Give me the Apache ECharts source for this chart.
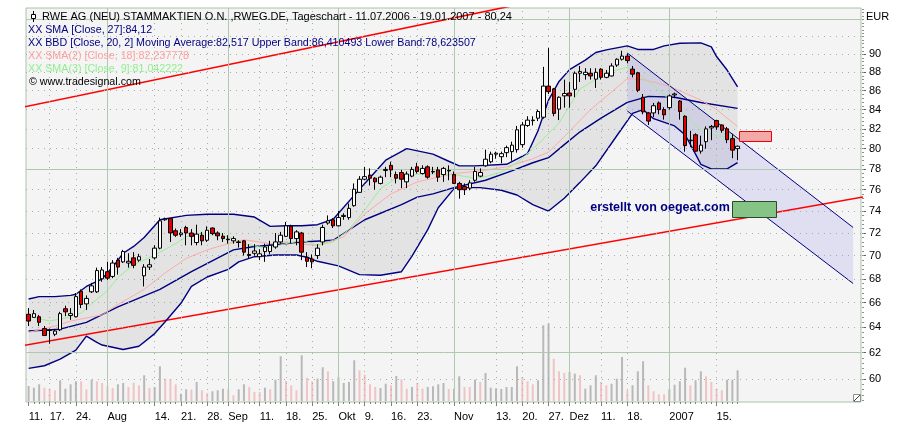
<!DOCTYPE html>
<html><head><meta charset="utf-8">
<script src="https://cdn.jsdelivr.net/npm/echarts@6/dist/echarts.min.js"></script>
<style>html,body{margin:0;padding:0;background:#fff}#c{width:919px;height:434px}</style>
</head><body><div id="c"></div>
<script>
// ---------- DATA ----------
const categories = ['11.07.06','12.07.06','13.07.06','14.07.06','17.07.06','18.07.06','19.07.06','20.07.06','21.07.06','24.07.06','25.07.06','26.07.06','27.07.06','28.07.06','31.07.06',
'01.08.06','02.08.06','03.08.06','04.08.06','07.08.06','08.08.06','09.08.06','10.08.06','11.08.06','14.08.06','15.08.06','16.08.06','17.08.06','18.08.06','21.08.06','22.08.06','23.08.06','24.08.06','25.08.06','28.08.06','29.08.06','30.08.06','31.08.06',
'01.09.06','04.09.06','05.09.06','06.09.06','07.09.06','08.09.06','11.09.06','12.09.06','13.09.06','14.09.06','15.09.06','18.09.06','19.09.06','20.09.06','21.09.06','22.09.06','25.09.06','26.09.06','27.09.06','28.09.06','29.09.06',
'02.10.06','03.10.06','04.10.06','05.10.06','06.10.06','09.10.06','10.10.06','11.10.06','12.10.06','13.10.06','16.10.06','17.10.06','18.10.06','19.10.06','20.10.06','23.10.06','24.10.06','25.10.06','26.10.06','27.10.06','30.10.06','31.10.06',
'01.11.06','02.11.06','03.11.06','06.11.06','07.11.06','08.11.06','09.11.06','10.11.06','13.11.06','14.11.06','15.11.06','16.11.06','17.11.06','20.11.06','21.11.06','22.11.06','23.11.06','24.11.06','27.11.06','28.11.06','29.11.06','30.11.06',
'01.12.06','04.12.06','05.12.06','06.12.06','07.12.06','08.12.06','11.12.06','12.12.06','13.12.06','14.12.06','15.12.06','18.12.06','19.12.06','20.12.06','21.12.06','22.12.06','27.12.06','28.12.06','29.12.06',
'02.01.07','03.01.07','04.01.07','05.01.07','08.01.07','09.01.07','10.01.07','11.01.07','12.01.07','15.01.07','16.01.07','17.01.07','18.01.07','19.01.07',
'22.01.07','23.01.07','24.01.07','25.01.07','26.01.07','29.01.07','30.01.07','31.01.07','01.02.07','02.02.07','05.02.07','06.02.07','07.02.07','08.02.07','09.02.07','12.02.07','13.02.07','14.02.07','15.02.07','16.02.07','19.02.07','20.02.07','21.02.07'];

const tickDates = ['11.07.06','17.07.06','24.07.06','01.08.06','14.08.06','21.08.06','28.08.06','01.09.06','11.09.06','18.09.06','25.09.06','02.10.06','09.10.06','16.10.06','23.10.06','01.11.06','13.11.06','20.11.06','27.11.06','01.12.06','11.12.06','18.12.06','02.01.07','15.01.07'];
const tickText  = ['11.','17.','24.','Aug','14.','21.','28.','Sep','11.','18.','25.','Okt','9.','16.','23.','Nov','13.','20.','27.','Dez','11.','18.','2007','15.'];
const monthDates = ['01.08.06','01.09.06','02.10.06','01.11.06','01.12.06','02.01.07'];
const weekDates = ['17.07.06','24.07.06','14.08.06','21.08.06','28.08.06','11.09.06','18.09.06','25.09.06','09.10.06','16.10.06','23.10.06','13.11.06','20.11.06','27.11.06','11.12.06','18.12.06','15.01.07'];

const priceTicks = [60,62,64,66,68,70,72,74,76,78,80,82,84,86,88,90];
const gridValues = [58,60,62,64,66,68,70,72,74,76,78,80,82,84,86,88,90,92,94];
const solidGridValues = [62,78,94];

const open = [65.05,64.8,64.85,63.9,63.75,63.45,63.8,65.5,64.95,64.85, 66.95,65.9,66.9,66.9,68.0,68.6,68.2,69.6,69.45,69.35, 69.8,69.6,68.25,69.0,69.8,70.65,73.2,73.3,72.2,71.85, 72.5,72.0,71.15,71.8,71.35,72.45,72.0,71.7,71.45,71.3, 71.2,71.3,70.1,70.2,69.9,70.35,70.35,70.75,71.2,71.7, 72.6,71.5,72.0,69.85,69.7,70.0,71.2,72.9,73.2,72.65, 73.5,73.4,74.5,75.75,77.0,77.4,77.1,76.6,77.85,78.35, 77.45,77.65,76.75,77.3,78.2,77.55,78.2,77.75,77.9,77.45, 77.85,77.45,76.6,76.3,76.15,76.9,77.3,78.3,78.7,79.45, 79.2,79.6,79.7,79.9,80.4,82.35,82.85,83.1,83.2,86.5, 86.2,84.05,85.45,85.75,86.15,87.9,87.75,87.9,87.25,88.35, 87.45,87.6,88.8,89.45,89.8,88.35,87.95,85.3,83.65,83.65, 84.7,84.0,84.2,85.55,84.9,83.3,80.8,81.4,79.75,80.7, 82.1,82.85,82.4,82.0,81.0,80.0];
const close = [64.5,65.1,64.4,63.35,63.8,63.7,65.1,65.25,65.1,66.5, 65.85,66.35,67.4,68.7,68.75,68.05,69.35,69.0,70.35,69.5, 69.15,69.9,69.0,69.2,70.65,73.1,73.3,72.0,71.8,72.0, 72.0,71.7,71.9,71.3,72.25,71.95,71.75,71.5,71.4,71.5, 71.15,70.3,70.0,70.4,70.15,70.75,70.9,71.2,71.8,72.65, 71.5,72.1,70.3,69.5,69.45,70.65,72.5,73.1,72.65,73.4, 73.6,74.25,76.05,77.0,77.25,77.1,76.75,77.2,77.95,77.9, 77.1,77.0,77.5,77.95,77.75,78.05,77.2,77.7,77.2,78.05, 77.8,76.6,76.0,76.0,76.65,77.75,77.65,78.95,79.45,79.55, 79.5,80.1,80.35,81.9,82.4,82.9,82.9,83.8,86.5,85.9, 83.6,85.3,85.7,85.45,87.9,88.1,88.0,87.6,88.0,87.45, 87.9,88.7,89.45,89.8,89.3,87.8,86.05,83.75,82.8,84.4, 84.0,83.45,85.45,85.65,83.8,80.3,80.85,79.75,80.35,82.0, 82.25,82.2,81.85,80.9,79.85,80.24];
const low = [64.1,64.75,64.1,63.3,62.7,63.3,63.7,64.9,64.6,64.8, 65.55,65.4,66.8,66.8,67.75,67.9,68.05,68.35,69.35,68.95, 68.9,69.45,67.35,68.75,69.65,70.55,73.1,71.2,71.65,71.65, 70.9,70.9,70.9,70.9,71.2,71.8,71.35,71.2,71.05,71.05, 70.7,70.0,69.75,70.0,69.6,69.45,70.1,70.6,71.05,71.65, 71.1,70.9,69.6,69.0,68.9,69.7,70.9,72.75,72.45,72.6, 73.2,73.2,74.4,75.7,76.9,76.4,76.0,76.5,77.2,77.2, 76.6,76.15,76.15,77.2,77.55,77.45,77.05,77.5,76.75,76.75, 76.9,76.55,75.15,75.5,75.95,76.75,77.2,78.2,78.55,79.0, 78.55,79.15,78.8,79.6,80.1,82.2,82.35,82.8,83.05,85.65, 83.3,82.9,84.2,84.2,85.3,86.95,87.2,87.2,86.3,87.2, 87.35,87.55,88.6,89.3,89.0,87.45,85.85,83.5,82.4,83.2, 83.5,82.95,84.0,85.2,82.95,79.7,80.15,79.7,79.5,80.0, 80.85,81.9,81.6,80.55,79.05,78.85];
const high = [65.55,65.4,65.0,64.1,63.9,63.85,65.25,65.75,65.55,66.8, 67.1,66.6,67.65,68.95,69.0,69.45,69.6,69.8,70.5,70.2, 70.3,70.15,69.25,69.7,70.9,73.4,73.4,73.35,72.4,72.35, 72.65,72.35,72.75,72.1,72.6,72.5,72.15,72.0,71.8,71.7, 71.35,71.35,71.0,71.0,70.55,71.05,71.3,72.0,72.1,73.0, 72.75,72.25,72.1,70.3,70.1,71.0,72.75,73.6,73.35,74.0, 73.8,74.7,76.6,77.3,78.2,78.05,77.2,77.35,78.2,78.7, 77.75,77.9,77.75,78.2,78.6,78.35,78.35,78.2,78.2,78.2, 78.35,77.75,76.75,76.6,76.9,78.2,78.05,79.9,79.7,79.7, 79.7,80.3,80.7,82.3,82.7,83.3,83.3,84.0,88.6,90.7, 86.3,85.4,87.2,86.95,88.1,88.7,88.45,88.45,88.45,88.45, 88.25,89.0,89.55,90.4,90.1,88.7,88.05,85.65,83.75,84.7, 84.85,84.25,85.6,85.8,85.0,83.4,81.8,81.55,81.3,82.25, 82.4,82.9,82.45,82.2,81.5,80.3];

const volume = [15,13.3,16.7,13.3,12.3,10.7,20.7,12.3,16.7,19.7, 19.7,11.7,21.3,19.7,18.0,14.7,13.0,16.7,18.0,14.0, 18.3,15.7,25.7,13.0,14.0,34.7,22.3,21.7,16.7,7.3, 11.7,11.3,19.0,10.7,8.0,9.7,10.7,12.3,11.7,5.7, 11.7,16.7,14.0,9.0,9.0,13.3,11.7,21.3,44.7,20.0, 15.7,10.7,45.7,23.3,19.7,22.3,33.7,29.7,19.7,23.7, 18.0,19.0,40.7,30.7,26.3,16.7,14.0,13.0,17.3,15.7, 25.0,21.7,12.3,14.0,18.0,12.3,14.0,14.7,16.7,18.0, 12.0,12.3,24.7,14.0,14.0,21.3,19.0,28.0,13.3,12.7, 12.0,14.0,14.0,34.7,24.0,19.7,16.7,20.7,75.7,77.3, 42.3,29.7,28.0,29.0,27.3,25.7,12.3,15.7,25.7,19.0, 15.7,17.3,22.3,44.0,10.7,15.7,29.7,39.7,15.7,9.7, 6.7,6.7,11.7,16.3,19.7,33.3,15.7,20.7,29.7,24.7, 19.0,12.3,10.7,21.3,21.3,30.7];
const volumeUp = [1,1,1,0,0,0,1,1,1,1, 0,0,1,0,0,0,0,1,1,0, 0,0,1,0,1,1,0,0,0,1, 1,0,1,0,0,1,1,1,0,0, 1,1,0,0,0,1,0,1,1,0, 0,0,1,0,0,1,1,0,1,1, 1,1,1,0,0,0,0,1,1,0, 1,0,0,1,0,0,1,1,1,1, 0,1,1,0,0,1,0,1,1,1, 1,1,1,1,0,0,0,1,1,1, 0,0,0,1,1,0,1,1,1,0, 0,1,1,1,0,1,1,1,0,0, 0,0,1,1,1,1,0,1,1,0, 0,0,0,1,1,1];

// indicator lines: [day index, value]
const bbUpper = [[0,66.3],[2,66.5],[5,66.5],[8,66.6],[9,66.7],[11,67.35],[14,68.0],[16,69.0],[18,70.2],[20,70.8],[22,71.6],[25,73.2],[30,73.6],[34,73.7],[39,73.7],[43,73.45],[46,72.6],[49,72.65],[52,72.65],[55,72.75],[58,73.25],[64,76.6],[68,78.85],[72,80.0],[77,79.45],[80,78.75],[82,78.3],[85,78.3],[91,78.45],[95,79.5],[97,81.8],[99,85.0],[101,87.0],[103,88.3],[106,89.35],[108,90.2],[110,90.5],[114,90.95],[116,90.55],[119,90.55],[121,90.95],[124,91.25],[128,91.3],[130,90.85],[131,89.75],[133,88.25],[135,86.41]];
const bbLower = [[0,60.8],[3,61.0],[6,61.5],[9,62.2],[11,63.3],[13,62.8],[14,62.6],[18,62.25],[21,62.5],[24,63.5],[26,64.45],[29,65.95],[31,67.35],[34,68.15],[38,68.8],[40,69.45],[43,69.9],[47,70.05],[51,70.05],[53,69.85],[55,69.5],[59,69.1],[63,68.35],[67,68.3],[71,68.6],[73,69.95],[76,72.3],[78,74.3],[81,76.1],[82,76.2],[86,76.2],[90,75.95],[93,75.5],[96,74.6],[99,74.0],[102,75.2],[105,76.7],[108,78.3],[112,81.3],[115,83.6],[117,84.0],[119,83.05],[123,82.3],[125,81.4],[127,79.45],[128,78.45],[130,78.0],[133,78.0],[135,78.62]];
const sma27 = [[0,63.7],[6,63.85],[11,64.4],[17,65.65],[25,67.1],[31,68.6],[39,70.5],[43,70.8],[47,70.95],[52,71.2],[58,71.35],[64,73.2],[71,74.6],[74,75.3],[77,75.6],[81,76.2],[87,76.9],[92,77.8],[96,78.6],[99,79.1],[102,80.4],[105,81.7],[109,83.1],[114,84.75],[118,85.4],[123,85.3],[128,84.75],[135,84.12]];
const sma18 = [[0,63.6],[5,64.1],[8,64.5],[14,65.0],[17,65.85],[22,67.1],[26,68.5],[30,69.75],[34,70.5],[38,71.05],[41,71.4],[46,71.05],[49,71.2],[52,71.0],[55,70.9],[57,71.2],[60,71.65],[64,73.75],[69,75.6],[74,76.75],[78,77.2],[81,77.55],[86,77.8],[91,78.2],[96,79.0],[99,79.65],[102,81.2],[107,84.0],[114,87.3],[117,87.2],[122,86.5],[128,85.0],[131,84.0],[135,82.24]];
const sma9 = [[0,64.9],[4,64.5],[7,64.75],[10,65.15],[12,65.9],[15,67.0],[17,68.1],[20,69.2],[22,69.6],[25,70.3],[28,71.05],[30,71.65],[33,72.0],[37,71.8],[39,71.5],[41,71.05],[44,70.75],[46,70.7],[49,71.05],[52,71.35],[55,70.9],[58,71.2],[61,72.3],[64,74.1],[67,76.1],[70,77.1],[74,77.5],[78,77.5],[81,77.45],[85,77.1],[87,77.25],[90,77.7],[93,78.6],[97,80.45],[101,82.6],[105,86.2],[109,87.55],[111,88.1],[114,88.55],[116,87.9],[120,86.1],[124,84.0],[128,81.8],[131,81.3],[135,81.04]];

// drawn trend lines / channel / boxes, in [day index, price]
const trendUpper = [[-1,84.26],[95,96.0]];
const trendLower = [[-1,62.56],[159,75.32]];
const channelTop = [[114,90.15],[157,72.5]];
const channelBottom = [[114,83.85],[157,67.6]];
const redBox = [[135.2,81.8],[141.3,80.75]];
const greenBox = [[133.9,74.9],[142.3,73.45]];

// ---------- CHART ----------
const FONT = "'Liberation Sans', Arial, sans-serif";
const yMin = 58.30, yMax = 95.36;
const nDays = close.length;
const chart = echarts.init(document.getElementById('c'), null, {renderer: 'canvas'});

function fx(api, f, v) {
  const a = Math.floor(f);
  const p0 = api.coord([a, v])[0], p1 = api.coord([a + 1, v])[0];
  return p0 + (p1 - p0) * (f - a);
}
function boxSeries(box, fill, stroke) {
  return {
    type: 'custom', xAxisIndex: 0, yAxisIndex: 0, z: 6, silent: true, data: [[0, 70]],
    renderItem: (params, api) => {
      const x0 = fx(api, box[0][0], box[0][1]), x1 = fx(api, box[1][0], box[1][1]);
      const y0 = api.coord([0, box[0][1]])[1], y1 = api.coord([0, box[1][1]])[1];
      return {type: 'rect', shape: {x: Math.round(x0) + 0.5, y: Math.round(y0) + 0.5, width: Math.round(x1 - x0), height: Math.round(y1 - y0)},
              style: {fill: fill, stroke: stroke, lineWidth: 1}};
    }
  };
}
function lineSeries(data, color, width, z) {
  return {type: 'line', xAxisIndex: 0, yAxisIndex: 0, data: data, showSymbol: false, symbol: 'none', silent: true,
          z: z || 4, lineStyle: {color: color, width: width}, clip: true};
}

const gridMarks = gridValues.map(v => solidGridValues.indexOf(v) >= 0
  ? {yAxis: v, lineStyle: {color: '#b0c8b0', width: 1, type: 'solid'}}
  : {yAxis: v, lineStyle: {color: '#a6aca6', width: 1, type: [1, 5]}});
monthDates.forEach(d => gridMarks.push({xAxis: d, lineStyle: {color: '#b0c8b0', width: 1, type: 'solid'}}));
weekDates.forEach(d => gridMarks.push({xAxis: d, lineStyle: {color: '#a6aca6', width: 1, type: [1, 5]}}));

const minorTicks = [];
for (let v = 58.4; v < 95.3; v += 0.4) minorTicks.push({yAxis: +v.toFixed(1)});

const option = {
  animation: false,
  backgroundColor: '#ffffff',
  grid: [
    {left: 26, top: 8, width: 835, height: 394, show: true, backgroundColor: '#f4f4f4', borderColor: '#a9c2a9', borderWidth: 1},
    {left: 26, top: 301, width: 835, height: 100, show: false},
    {left: 862, top: 8, width: 4, height: 394, show: false},
    {left: 862, top: 8, width: 2, height: 394, show: false}
  ],
  xAxis: [
    {gridIndex: 0, type: 'category', data: categories, boundaryGap: true, position: 'bottom',
     axisLine: {show: false},
     axisTick: {show: true, alignWithLabel: true, length: 2, interval: (i) => i < nDays, lineStyle: {color: '#808080'}},
     axisLabel: {show: true, interval: (i, v) => tickDates.indexOf(v) >= 0,
                 formatter: (v) => tickText[tickDates.indexOf(v)] || '',
                 align: 'left', margin: 9, fontSize: 11, color: '#000', fontFamily: FONT},
     splitLine: {show: false}},
    {gridIndex: 0, type: 'category', data: categories, boundaryGap: true, position: 'bottom',
     axisLine: {show: false},
     axisTick: {show: true, alignWithLabel: true, length: 4, interval: (i, v) => tickDates.indexOf(v) >= 0, lineStyle: {color: '#808080'}},
     axisLabel: {show: false}, splitLine: {show: false}},
    {gridIndex: 1, type: 'category', data: categories, boundaryGap: true, show: false},
    {gridIndex: 2, type: 'value', min: 0, max: 1, show: false},
    {gridIndex: 3, type: 'value', min: 0, max: 1, show: false}
  ],
  yAxis: [
    {gridIndex: 0, type: 'log', min: yMin, max: yMax, show: false},
    {gridIndex: 1, type: 'value', min: 0, max: 100, show: false},
    {gridIndex: 2, type: 'log', min: yMin, max: yMax, show: false},
    {gridIndex: 3, type: 'log', min: yMin, max: yMax, show: false}
  ],
  series: [
    // Bollinger band fill
    {type: 'custom', xAxisIndex: 0, yAxisIndex: 0, z: 1, silent: true, data: [[0, 70]],
     renderItem: (params, api) => {
       const pts = bbUpper.map(p => api.coord(p)).concat(bbLower.slice().reverse().map(p => api.coord(p)));
       return {type: 'polygon', shape: {points: pts}, style: {fill: '#e3e3e3'}};
     }},
    // grid lines
    {type: 'line', xAxisIndex: 0, yAxisIndex: 0, z: 2, silent: true, data: [[0, 70]], showSymbol: false, symbol: 'none',
     lineStyle: {opacity: 0},
     markLine: {silent: true, symbol: ['none', 'none'], label: {show: false}, animation: false, data: gridMarks}},
    // channel fill
    {type: 'custom', xAxisIndex: 0, yAxisIndex: 0, z: 2, silent: true, data: [[0, 70]],
     renderItem: (params, api) => {
       const pts = channelTop.map(p => api.coord(p)).concat(channelBottom.slice().reverse().map(p => api.coord(p)));
       return {type: 'polygon', shape: {points: pts}, style: {fill: 'rgba(70,70,225,0.12)'}};
     }},
    // volume
    {type: 'bar', xAxisIndex: 2, yAxisIndex: 1, z: 3, silent: true, barWidth: 2,
     data: volume.map((v, i) => ({value: v, itemStyle: {color: volumeUp[i] ? '#b8b8b8' : '#f0c4c4'}}))},
    // trend lines
    lineSeries(trendUpper, '#ff0000', 1.6, 3),
    lineSeries(trendLower, '#ff0000', 1.6, 3),
    // indicators
    lineSeries(bbUpper, '#000080', 1.4),
    lineSeries(bbLower, '#000080', 1.4),
    lineSeries(sma27, '#000080', 1.4),
    lineSeries(sma18, '#ffaaaa', 1),
    lineSeries(sma9, '#99f099', 1),
    // channel lines
    lineSeries(channelTop, '#000080', 1),
    lineSeries(channelBottom, '#000080', 1),
    // candles
    {type: 'candlestick', xAxisIndex: 0, yAxisIndex: 0, z: 5, silent: true, barWidth: 4,
     data: open.map((o, i) => [o, close[i], low[i], high[i]]),
     itemStyle: {color: '#ffffff', color0: '#e00000', borderColor: '#000000', borderColor0: '#000000', borderWidth: 1}},
    boxSeries(redBox, '#f5a8a8', '#ee0000'),
    boxSeries(greenBox, '#86c486', '#2a4a2a'),
    // right axis: major ticks + labels
    {type: 'line', xAxisIndex: 3, yAxisIndex: 2, z: 6, silent: true, data: [[0, 70]], showSymbol: false, symbol: 'none',
     lineStyle: {opacity: 0},
     markLine: {silent: true, symbol: ['none', 'none'], animation: false,
       lineStyle: {color: '#606060', width: 1, type: 'solid'},
       label: {show: true, position: 'end', distance: 3, formatter: (p) => String(p.value), color: '#000', fontSize: 11, fontFamily: FONT},
       data: priceTicks.map(v => ({yAxis: v}))}},
    // right axis: minor ticks
    {type: 'line', xAxisIndex: 4, yAxisIndex: 3, z: 6, silent: true, data: [[0, 70]], showSymbol: false, symbol: 'none',
     lineStyle: {opacity: 0},
     markLine: {silent: true, symbol: ['none', 'none'], animation: false, label: {show: false},
       lineStyle: {color: '#909090', width: 1, type: 'solid'}, data: minorTicks}}
  ],
  graphic: [
    {type: 'line', z: 10, shape: {x1: 33.5, y1: 11, x2: 33.5, y2: 22}, style: {stroke: '#000', lineWidth: 1}},
    {type: 'rect', z: 11, shape: {x: 31.5, y: 14.5, width: 4, height: 4}, style: {fill: '#fff', stroke: '#000', lineWidth: 1}},
    {type: 'text', z: 10, x: 42, y: 16.5, style: {text: 'RWE AG (NEU) STAMMAKTIEN O.N. ,RWEG.DE, Tageschart - 11.07.2006 - 19.01.2007 - 80,24', fill: '#000', font: '11px ' + FONT, verticalAlign: 'middle'}},
    {type: 'text', z: 10, x: 28, y: 30, style: {text: 'XX SMA [Close, 27]:84,12', fill: '#000080', font: '10.7px ' + FONT, verticalAlign: 'middle'}},
    {type: 'text', z: 10, x: 28, y: 43, style: {text: 'XX BBD [Close, 20, 2] Moving Average:82,517 Upper Band:86,410493 Lower Band:78,623507', fill: '#000080', font: '10.7px ' + FONT, verticalAlign: 'middle'}},
    {type: 'text', z: 10, x: 28, y: 56, style: {text: 'XX SMA(2) [Close, 18]:82,237778', fill: '#ffa0a0', font: '10.7px ' + FONT, verticalAlign: 'middle'}},
    {type: 'text', z: 10, x: 28, y: 69, style: {text: 'XX SMA(3) [Close, 9]:81,042222', fill: '#90ee90', font: '10.7px ' + FONT, verticalAlign: 'middle'}},
    {type: 'text', z: 10, x: 29, y: 82, style: {text: '© www.tradesignal.com', fill: '#000', font: '10.7px ' + FONT, verticalAlign: 'middle'}},
    {type: 'text', z: 10, x: 660, y: 208, style: {text: 'erstellt von oegeat.com', fill: '#000080', font: 'bold 12.5px ' + FONT, align: 'center', verticalAlign: 'middle'}},
    {type: 'text', z: 10, x: 866, y: 16.5, style: {text: 'EUR', fill: '#000', font: '11px ' + FONT, verticalAlign: 'middle'}},
    {type: 'rect', z: 10, shape: {x: 853.5, y: 394.5, width: 7, height: 7}, style: {fill: '#fff', stroke: '#909090', lineWidth: 1}},
    {type: 'line', z: 11, shape: {x1: 854, y1: 401, x2: 860, y2: 395}, style: {stroke: '#404040', lineWidth: 1}}
  ]
};
chart.setOption(option);
</script>
</body></html>
